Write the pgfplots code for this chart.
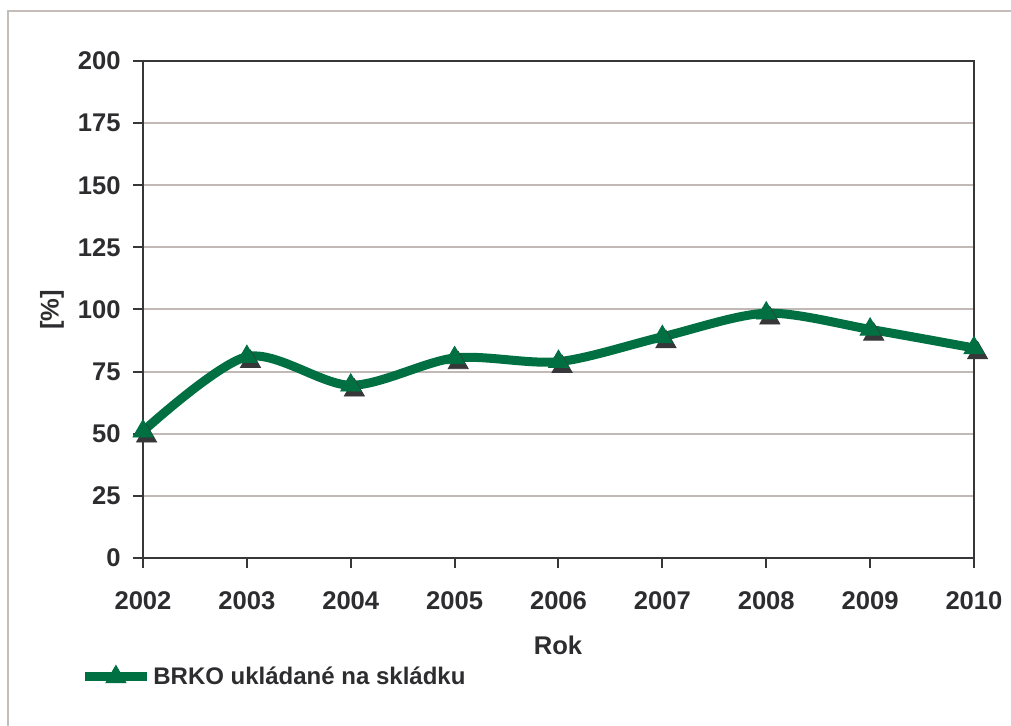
\documentclass[border=0pt]{standalone}
\usepackage{pgfplots}
\pgfplotsset{compat=1.18}
\usepackage{fontspec}
\setmainfont{Liberation Sans}
\definecolor{brkogreen}{RGB}{0,112,66}
\definecolor{shadowgray}{RGB}{55,55,58}
\definecolor{axisgray}{RGB}{55,55,58}
\definecolor{gridgray}{RGB}{192,185,182}
\definecolor{framegray}{RGB}{196,189,186}
\definecolor{textgray}{RGB}{45,45,48}
\newcommand{\lbl}{\fontsize{12.8}{15}\selectfont\bfseries}
\newcommand{\leglbl}{\fontsize{12}{14}\selectfont\bfseries}
\begin{document}
\begin{tikzpicture}
\useasboundingbox (0,0) rectangle (505.5pt,363pt);
\draw[framegray, line width=1pt] (4pt,0) -- (4pt,357.5pt) -- (505.5pt,357.5pt);
\begin{axis}[
  at={(71.5pt,84pt)}, anchor=south west,
  scale only axis, width=415.5pt, height=248.5pt,
  xmin=2002, xmax=2010, ymin=0, ymax=200,
  xtick={2002,2003,2004,2005,2006,2007,2008,2009,2010},
  xticklabels={2002,2003,2004,2005,2006,2007,2008,2009,2010},
  ytick={0,25,50,75,100,125,150,175,200},
  yticklabels={0,25,50,75,100,125,150,175,200},
  xtick pos=bottom, ytick pos=left,
  tick align=outside, major tick length=5pt,
  tick style={axisgray, line width=1pt},
  axis line style={axisgray, line width=1pt},
  ymajorgrids, grid style={gridgray, line width=1pt},
  ticklabel style={font=\lbl, text=textgray},
  xticklabel style={inner sep=0pt, anchor=north, yshift=-11.5pt},
  yticklabel style={inner sep=0pt, anchor=east, xshift=-6pt},
  clip=false,
  legend style={draw=none, fill=none, inner sep=0pt, anchor=west,
    at={(-0.0758,-0.2394)}, font=\leglbl, text=textgray,
    legend cell align=left, nodes={inner sep=1pt}},
  legend image code/.code={\draw[mark repeat=2,mark phase=2,#1] plot coordinates {(0pt,0pt)(15.5pt,0pt)(31pt,0pt)};},
]
\addplot[shadowgray, only marks, mark=triangle*, mark size=5.8pt,
  mark options={xshift=1.8pt, yshift=-2.5pt, line width=0.4pt, fill=shadowgray}, forget plot]
  coordinates {(2002,51) (2003,81) (2004,69.5) (2005,80.5) (2006,79) (2007,89) (2008,98.5) (2009,92) (2010,84.5)};
\addplot[brkogreen, line width=4.5pt, smooth, mark=triangle*, mark size=5.8pt,
  mark options={line width=0.4pt, solid, fill=brkogreen}]
  coordinates {(2002,51) (2003,81) (2004,69.5) (2005,80.5) (2006,79) (2007,89) (2008,98.5) (2009,92) (2010,84.5)};
\addlegendentry{BRKO ukládané na skládku}
\end{axis}
\node[font=\lbl, text=textgray] at (279pt,40.5pt) {Rok};
\node[rotate=90, font=\lbl, text=textgray] at (26pt,208pt) {[\%]};
\end{tikzpicture}
\end{document}
